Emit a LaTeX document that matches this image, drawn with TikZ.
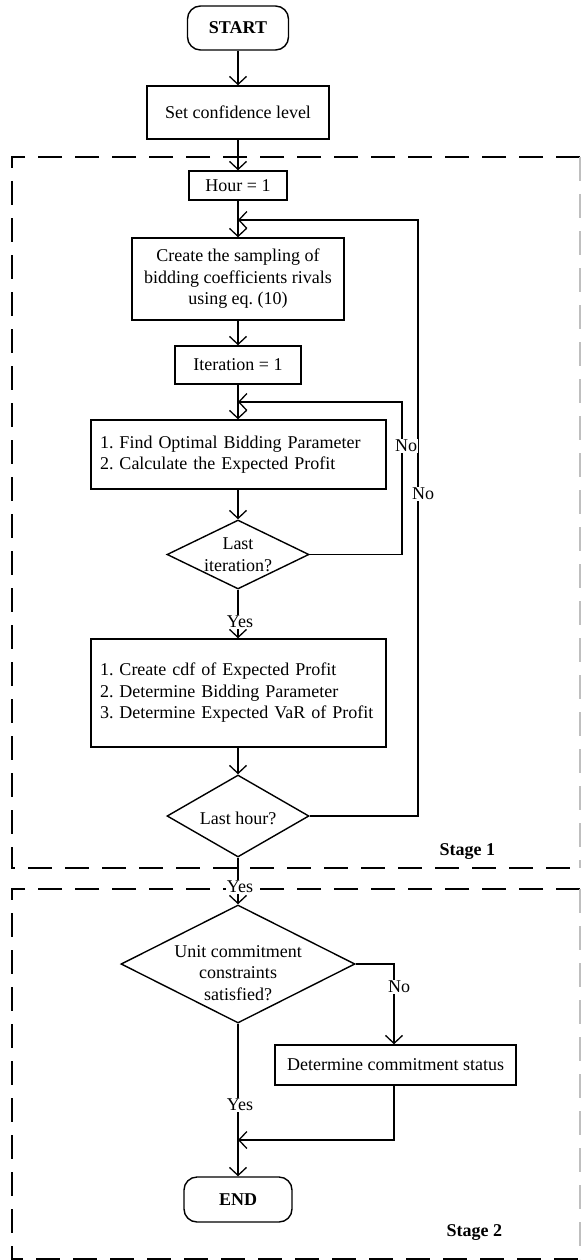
\documentclass[tikz,border=0pt]{standalone}
\usepackage{fontspec}
\setmainfont{Liberation Serif}
\usetikzlibrary{arrows.meta,shapes.geometric}
\begin{document}
\frenchspacing
\begin{tikzpicture}[x=1pt,y=-1pt,
  every node/.style={font=\fontsize{18}{21.5}\selectfont},
  line width=1.3pt,
  arr/.style={-{Straight Barb[length=8pt,width=17pt]}},
  box/.style={draw, rectangle, inner sep=0pt, align=center, line width=1.4pt},
  term/.style={draw, rectangle, rounded corners=13pt, inner sep=0pt, line width=1.4pt, font=\fontsize{18}{21.5}\selectfont\bfseries},
  dec/.style={draw, diamond, inner sep=0pt, line width=1.4pt},
  lbl/.style={fill=white, inner sep=1pt},
  stagebox/.style={dash pattern=on 24pt off 13pt, line width=1.5pt},
  stageedge/.style={dash pattern=on 24pt off 13pt, line width=1.5pt, draw=black!25},
  stagelbl/.style={anchor=east, font=\fontsize{18}{21.5}\selectfont\bfseries},
]
\useasboundingbox (0,0) rectangle (581,1260);
\fill[white] (0,0) rectangle (581,1260);

% stage frames (right edges are cut by the picture border, so they look faint)
\coordinate (f1a) at (12,157);
\coordinate (f1b) at (580,868);
\coordinate (f2a) at (12,889);
\coordinate (f2b) at (580,1259);
\draw[stagebox] (f1b |- f1a) -- (f1a) |- (f1b);
\draw[stageedge] (f1b |- f1a) -- (f1b);
\draw[stagebox] (f2b |- f2a) -- (f2a) |- (f2b);
\draw[stageedge] (f2b |- f2a) -- (f2b);

% nodes
\node[term, minimum width=101, minimum height=44] (start) at (238,28) {START};
\node[box, minimum width=182, minimum height=53] (conf) at (238,112.5) {Set confidence level};
\node[box, minimum width=98, minimum height=29] (hour) at (238,185.5) {Hour = 1};
\node[box, minimum width=212, minimum height=82] (create) at (238,279) {Create the sampling of\\bidding coefficients rivals\\using eq. (10)};
\node[box, minimum width=126, minimum height=38] (iter) at (238,365) {Iteration = 1};
\node[box, minimum width=295, minimum height=69, text width=277, inner xsep=9pt, align=left] (find) at (238.5,454.5) {1. Find Optimal Bidding Parameter\\2. Calculate the Expected Profit};
\node[dec, minimum width=142, minimum height=69] (lastit) at (238,554.5) {};
\node[align=center] (lastitT) at (lastit) {Last\\iteration?};
\node[box, minimum width=295, minimum height=108, text width=277, inner xsep=9pt, align=left] (box2) at (238.5,693) {1. Create cdf of Expected Profit\\2. Determine Bidding Parameter\\3. Determine Expected VaR of Profit};
\node[dec, minimum width=142, minimum height=82] (lasthour) at (238,816) {};
\node (lasthourT) at (238,818) {Last hour?};
\node[dec, minimum width=234, minimum height=118] (uc) at (238,964) {};
\node[align=center] (ucT) at (238,973) {Unit commitment\\constraints\\satisfied?};
\node[box, minimum width=241, minimum height=40] (dcs) at (395.5,1065) {Determine commitment status};
\node[term, minimum width=108, minimum height=45] (endn) at (238,1199.5) {END};

\node[stagelbl] (s1) at (499,852) {Stage 1};
\node[stagelbl] (s2) at (506,1233) {Stage 2};

% junctions and corners
\coordinate (j1) at (238,220);
\coordinate (r1) at (418,220);
\coordinate (j2) at (238,402);
\coordinate (r2) at (402,402);
\coordinate (j3) at (238,1140);

% connectors
\draw[arr] (start.south) -- (conf.north);
\draw[arr] (conf.south) -- (hour.north);
\draw[arr] (hour.south) -- (create.north);
\draw[arr] (create.south) -- (iter.north);
\draw[arr] (iter.south) -- (find.north -| iter.south);
\draw[arr] (find.south -| lastit.north) -- (lastit.north);
\draw[arr] (lastit.south) -- (box2.north -| lastit.south);
\draw[arr] (box2.south -| lasthour.north) -- (lasthour.north);
\draw[arr] (lasthour.south) -- (uc.north);
\draw[arr] (uc.east) -| (dcs.north -| 394,0);
\draw[arr] (uc.south) -- (endn.north);
\draw[arr] (dcs.south -| 394,0) |- (j3);
\draw[arr] (lastit.east) -| (r2) -- (j2);
\draw[arr] (lasthour.east) -| (r1) -- (j1);

% labels
\node[lbl] (no1) at (406,446) {No};
\node[lbl] (no2) at (423,494) {No};
\node[lbl] (yes1) at (240,622) {Yes};
\node[lbl] (yes2) at (240,887) {Yes};
\node[lbl] (no3) at (399,987) {No};
\node[lbl] (yes3) at (240,1105) {Yes};
\end{tikzpicture}
\end{document}
